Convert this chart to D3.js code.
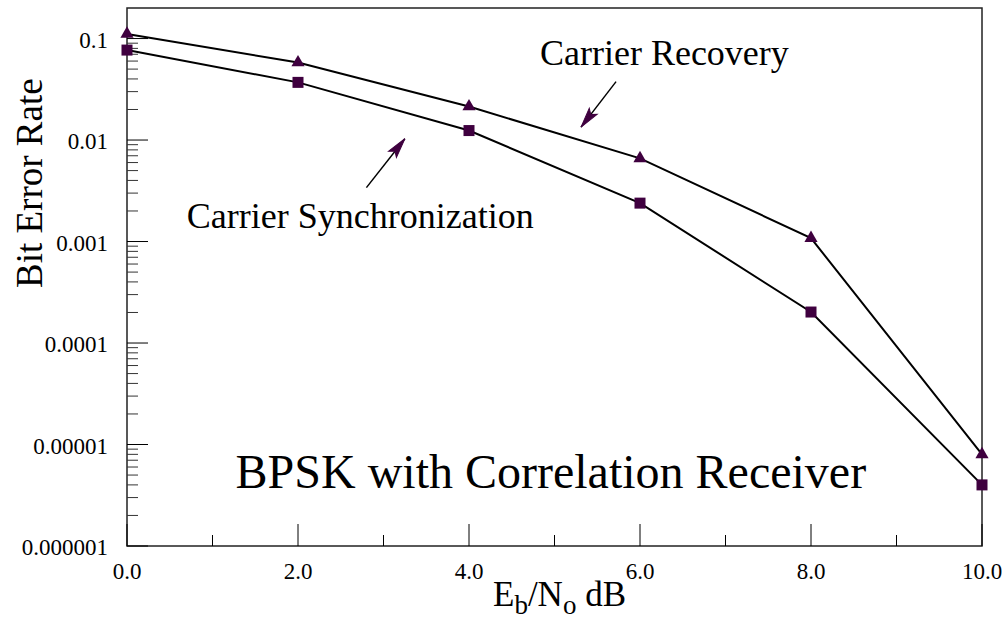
<!DOCTYPE html>
<html>
<head>
<meta charset="utf-8">
<script src="https://cdn.jsdelivr.net/npm/d3@7"></script>
<style>
  body { margin: 0; background: white; }
  text { font-family: "Liberation Serif", "Times New Roman", serif; fill: black; }
</style>
</head>
<body>
<div id="chart"></div>
<script>
let width = 1005, height = 619;

let margin = { top: 8, bottom: 73, left: 127, right: 23 };

// data
let ebno = [0, 2, 4, 6, 8, 10];
let recovery = [0.111, 0.058, 0.0214, 0.0066, 0.00108, 0.0000080];
let synchronization = [0.077, 0.037, 0.0124, 0.00239, 0.000202, 0.0000040];

let xTicks = [0, 2, 4, 6, 8, 10];
let xMinorTicks = [1, 3, 5, 7, 9];
let yTicks = [0.1, 0.01, 0.001, 0.0001, 0.00001, 0.000001];
let yTickLabels = ['0.1', '0.01', '0.001', '0.0001', '0.00001', '0.000001'];

// annotation positions in data units
let labels = [
  { text: 'Carrier Recovery', x: 4.83, y: 0.055, size: 36 },
  { text: 'Carrier Synchronization', x: 0.70, y: 0.00136, size: 36 },
  { text: 'BPSK with Correlation Receiver', x: 1.27, y: 0.0000037, size: 48 }
];
let arrows = [
  { x1: 5.72, y1: 0.0376, x2: 5.31, y2: 0.0134 },
  { x1: 2.80, y1: 0.0034, x2: 3.25, y2: 0.0103 }
];

let markColor = '#3f003f';

let svg = d3.select('#chart')
  .append('svg')
  .attr('width', width)
  .attr('height', height)
  .style('background', 'white');

let xscale = d3.scaleLinear()
  .domain([0, 10])
  .range([margin.left, width - margin.right]);

let yscale = d3.scaleLog()
  .domain([0.000001, 0.2])
  .range([height - margin.bottom, margin.top]);

let x0 = margin.left, x1 = width - margin.right;
let y0 = height - margin.bottom, y1 = margin.top;

// frame
svg.append('rect')
  .attr('x', x0)
  .attr('y', y1)
  .attr('width', x1 - x0)
  .attr('height', y0 - y1)
  .attr('fill', 'none')
  .attr('stroke', '#222')
  .attr('stroke-width', 1.5);

// y minor ticks (2..9 in each decade)
let yMinor = [];
for (let e = -6; e < 0; e++) {
  for (let m = 2; m <= 9; m++) {
    let v = m * Math.pow(10, e);
    if (v < 0.2) yMinor.push(v);
  }
}
svg.append('g')
  .selectAll('line')
  .data(yMinor)
  .enter()
  .append('line')
  .attr('x1', x0)
  .attr('x2', x0 + 11)
  .attr('y1', d => yscale(d))
  .attr('y2', d => yscale(d))
  .attr('stroke', '#333')
  .attr('stroke-width', 1);

svg.append('g')
  .selectAll('line')
  .data(yTicks)
  .enter()
  .append('line')
  .attr('x1', x0)
  .attr('x2', x0 + 21)
  .attr('y1', d => yscale(d))
  .attr('y2', d => yscale(d))
  .attr('stroke', 'black')
  .attr('stroke-width', 1);

svg.append('g')
  .selectAll('text')
  .data(yTicks)
  .enter()
  .append('text')
  .attr('x', x0 - 19)
  .attr('y', d => yscale(d) + 9)
  .attr('text-anchor', 'end')
  .style('font-size', '23px')
  .text((d, i) => yTickLabels[i]);

// x ticks
svg.append('g')
  .selectAll('line')
  .data(xTicks)
  .enter()
  .append('line')
  .attr('x1', d => xscale(d))
  .attr('x2', d => xscale(d))
  .attr('y1', y0)
  .attr('y2', y0 - 22)
  .attr('stroke', 'black')
  .attr('stroke-width', 1);

svg.append('g')
  .selectAll('line')
  .data(xMinorTicks)
  .enter()
  .append('line')
  .attr('x1', d => xscale(d))
  .attr('x2', d => xscale(d))
  .attr('y1', y0)
  .attr('y2', y0 - 11)
  .attr('stroke', 'black')
  .attr('stroke-width', 1);

svg.append('g')
  .selectAll('text')
  .data(xTicks)
  .enter()
  .append('text')
  .attr('x', d => xscale(d))
  .attr('y', y0 + 33)
  .attr('text-anchor', 'middle')
  .style('font-size', '23px')
  .text(d => d.toFixed(1));

// axis titles
svg.append('text')
  .attr('transform', `translate(42, 288) rotate(-90)`)
  .attr('text-anchor', 'start')
  .style('font-size', '37px')
  .text('Bit Error Rate');

let xl = svg.append('text')
  .attr('x', 493)
  .attr('y', 606)
  .style('font-size', '35px');
xl.append('tspan').text('E');
xl.append('tspan').attr('dy', 8).style('font-size', '27px').text('b');
xl.append('tspan').attr('dy', -8).text('/N');
xl.append('tspan').attr('dy', 8).style('font-size', '27px').text('o');
xl.append('tspan').attr('dy', -8).text(' dB');

// series
let line = d3.line()
  .x(d => xscale(d[0]))
  .y(d => yscale(d[1]));

let recData = ebno.map((x, i) => [x, recovery[i]]);
let syncData = ebno.map((x, i) => [x, synchronization[i]]);

[recData, syncData].forEach(s => {
  svg.append('path')
    .datum(s)
    .attr('d', line)
    .attr('fill', 'none')
    .attr('stroke', 'black')
    .attr('stroke-width', 2);
});

svg.selectAll('.tri')
  .data(recData)
  .enter()
  .append('path')
  .attr('class', 'tri')
  .attr('d', d3.symbol().type(d3.symbolTriangle).size(75))
  .attr('transform', d => `translate(${xscale(d[0])}, ${yscale(d[1])})`)
  .attr('fill', markColor);

svg.selectAll('.sq')
  .data(syncData)
  .enter()
  .append('rect')
  .attr('class', 'sq')
  .attr('x', d => xscale(d[0]) - 5.5)
  .attr('y', d => yscale(d[1]) - 5.5)
  .attr('width', 11)
  .attr('height', 11)
  .attr('fill', markColor);

// annotations
svg.selectAll('.lbl')
  .data(labels)
  .enter()
  .append('text')
  .attr('class', 'lbl')
  .attr('x', d => xscale(d.x))
  .attr('y', d => yscale(d.y))
  .style('font-size', d => d.size + 'px')
  .text(d => d.text);

arrows.forEach(a => {
  let ax1 = xscale(a.x1), ay1 = yscale(a.y1);
  let ax2 = xscale(a.x2), ay2 = yscale(a.y2);
  let ang = Math.atan2(ay2 - ay1, ax2 - ax1) * 180 / Math.PI;
  svg.append('line')
    .attr('x1', ax1).attr('y1', ay1)
    .attr('x2', ax2).attr('y2', ay2)
    .attr('stroke', 'black')
    .attr('stroke-width', 1.5);
  svg.append('path')
    .attr('d', 'M0,0 L-20,-5 L-16,0 L-20,5 Z')
    .attr('transform', `translate(${ax2}, ${ay2}) rotate(${ang})`)
    .attr('fill', markColor)
    .attr('stroke', markColor)
    .attr('stroke-width', 1);
});
</script>
</body>
</html>
